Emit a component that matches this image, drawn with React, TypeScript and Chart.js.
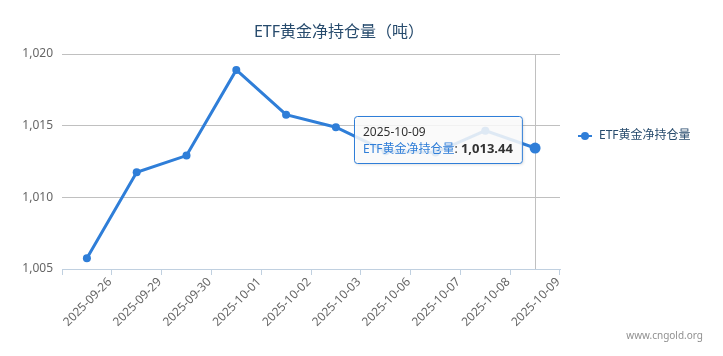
import React, { useEffect, useRef } from "react";
import { Chart, registerables } from "chart.js";

Chart.register(...registerables);

const categories = [
  "2025-09-26", "2025-09-29", "2025-09-30", "2025-10-01", "2025-10-02",
  "2025-10-03", "2025-10-06", "2025-10-07", "2025-10-08", "2025-10-09",
];
const holdings = [1005.75, 1011.75, 1012.91, 1018.89, 1015.77, 1014.89, 1013.22, 1013.12, 1014.65, 1013.44];
const yTicks = [1005, 1010, 1015, 1020];
const seriesName = "ETF黄金净持仓量";
const titleText = "ETF黄金净持仓量（吨）";
const creditText = "www.cngold.org";
const activeIndex = 9;

const FONT = '"Noto Sans", "Noto Sans CJK SC", sans-serif';
const SERIES_COLOR = "#2f7ed8";
const TEXT_COLOR = "#274b6d";

const fmt = (v: number, d = 0) =>
  v.toLocaleString("en-US", { minimumFractionDigits: d, maximumFractionDigits: d });

function roundRect(ctx: CanvasRenderingContext2D, x: number, y: number, w: number, h: number, r: number) {
  ctx.beginPath();
  ctx.moveTo(x + r, y);
  ctx.lineTo(x + w - r, y);
  ctx.arcTo(x + w, y, x + w, y + r, r);
  ctx.lineTo(x + w, y + h - r);
  ctx.arcTo(x + w, y + h, x + w - r, y + h, r);
  ctx.lineTo(x + r, y + h);
  ctx.arcTo(x, y + h, x, y + h - r, r);
  ctx.lineTo(x, y + r);
  ctx.arcTo(x, y, x + r, y, r);
  ctx.closePath();
}

const overlayPlugin = {
  id: "overlay",
  beforeDatasetsDraw(chart: any) {
    const { ctx, chartArea } = chart;
    const pt = chart.getDatasetMeta(0).data[activeIndex];
    ctx.save();
    ctx.strokeStyle = "#C0C0C0";
    ctx.lineWidth = 1;
    const x = Math.round(pt.x) + 0.5;
    ctx.beginPath();
    ctx.moveTo(x, chartArea.top);
    ctx.lineTo(x, chartArea.bottom);
    ctx.stroke();
    ctx.restore();
  },
  afterDraw(chart: any) {
    const { ctx, chartArea } = chart;
    ctx.save();
    // title
    ctx.fillStyle = TEXT_COLOR;
    ctx.font = `16px ${FONT}`;
    ctx.textAlign = "center";
    ctx.textBaseline = "middle";
    ctx.fillText(titleText, 339, 32);

    // legend
    const lx = chartArea.right + 18;
    const ly = 136;
    ctx.strokeStyle = SERIES_COLOR;
    ctx.lineWidth = 2;
    ctx.beginPath();
    ctx.moveTo(lx, ly);
    ctx.lineTo(lx + 14, ly);
    ctx.stroke();
    ctx.fillStyle = SERIES_COLOR;
    ctx.beginPath();
    ctx.arc(lx + 7, ly, 4, 0, Math.PI * 2);
    ctx.fill();
    ctx.fillStyle = TEXT_COLOR;
    ctx.font = `12px ${FONT}`;
    ctx.textAlign = "left";
    ctx.textBaseline = "middle";
    ctx.fillText(seriesName, lx + 21, ly);

    // credits
    ctx.fillStyle = "#909090";
    ctx.font = `10px ${FONT}`;
    ctx.textAlign = "right";
    ctx.textBaseline = "middle";
    ctx.fillText(creditText, 703, 336);

    // tooltip
    const pt = chart.getDatasetMeta(0).data[activeIndex];
    const header = categories[activeIndex];
    const valueText = fmt(holdings[activeIndex], 2);
    ctx.font = `12px ${FONT}`;
    const nameW = ctx.measureText(seriesName).width;
    const sepW = ctx.measureText(": ").width;
    ctx.font = `bold 13px ${FONT}`;
    const valW = ctx.measureText(valueText).width;
    const line2W = nameW + sepW + valW;
    ctx.font = `12px ${FONT}`;
    const line1W = ctx.measureText(header).width;
    const pad = 9;
    const bw = Math.max(line1W, line2W) + pad * 2;
    const bh = 47;
    const bx = Math.round(pt.x - 13 - bw) + 0.5;
    const by = Math.round(pt.y - 32) + 0.5;
    ctx.save();
    ctx.shadowColor = "rgba(0,0,0,0.18)";
    ctx.shadowBlur = 3;
    ctx.shadowOffsetX = 1;
    ctx.shadowOffsetY = 1;
    roundRect(ctx, bx, by, bw, bh, 3);
    ctx.fillStyle = "rgba(255,255,255,0.85)";
    ctx.fill();
    ctx.restore();
    roundRect(ctx, bx, by, bw, bh, 3);
    ctx.strokeStyle = SERIES_COLOR;
    ctx.lineWidth = 1;
    ctx.stroke();

    ctx.textAlign = "left";
    ctx.textBaseline = "alphabetic";
    ctx.fillStyle = "#333333";
    ctx.font = `12px ${FONT}`;
    const tx = bx + pad - 0.5;
    ctx.fillText(header, tx, by + 19);
    ctx.fillStyle = SERIES_COLOR;
    ctx.fillText(seriesName, tx, by + 36);
    ctx.fillStyle = "#333333";
    ctx.fillText(": ", tx + nameW, by + 36);
    ctx.font = `bold 13px ${FONT}`;
    ctx.fillText(valueText, tx + nameW + sepW, by + 36);
    ctx.restore();
  },
};

export default function App() {
  const canvasRef = useRef<HTMLCanvasElement | null>(null);

  useEffect(() => {
    document.body.style.margin = "0";
    const canvas = canvasRef.current;
    if (!canvas) return;
    const chart = new Chart(canvas, {
      type: "line",
      data: {
        labels: categories,
        datasets: [
          {
            label: seriesName,
            data: holdings,
            borderColor: SERIES_COLOR,
            backgroundColor: SERIES_COLOR,
            borderWidth: 3,
            pointRadius: (c: any) => (c.dataIndex === activeIndex ? 5.5 : 4),
            pointBorderWidth: 0,
            pointBackgroundColor: SERIES_COLOR,
            tension: 0,
            fill: false,
          },
        ],
      },
      options: {
        animation: false,
        responsive: false,
        events: [],
        layout: { padding: { top: 54, right: 163, left: 0, bottom: 0 } },
        plugins: {
          legend: { display: false },
          title: { display: false },
          tooltip: { enabled: false },
        },
        scales: {
          x: {
            type: "category",
            offset: true,
            grid: { offset: true, drawOnChartArea: false, color: "#C0D0E0", tickLength: 6 },
            border: { color: "#C0D0E0", width: 1 },
            afterFit: (scale: any) => {
              scale.height = 87;
            },
            ticks: {
              autoSkip: false,
              maxRotation: 45,
              minRotation: 45,
              labelOffset: 23,
              padding: 0,
              color: "#666666",
              font: { family: FONT, size: 12 },
            },
          },
          y: {
            min: 1005,
            max: 1020,
            afterBuildTicks: (scale: any) => {
              scale.ticks = yTicks.map((v) => ({ value: v }));
            },
            afterFit: (scale: any) => {
              scale.width = 62;
            },
            border: { display: false },
            grid: {
              drawTicks: false,
              color: (c: any) => (c.tick && c.tick.value === 1005 ? "rgba(0,0,0,0)" : "#C0C0C0"),
            },
            ticks: {
              padding: 9,
              color: "#666666",
              font: { family: FONT, size: 12 },
              callback: (v: any) => fmt(Number(v)),
            },
          },
        },
      },
      plugins: [overlayPlugin],
    });
    return () => chart.destroy();
  }, []);

  return (
    <div style={{ width: 723, height: 356 }}>
      <canvas ref={canvasRef} width={723} height={356} style={{ width: 723, height: 356, display: "block" }} />
    </div>
  );
}
